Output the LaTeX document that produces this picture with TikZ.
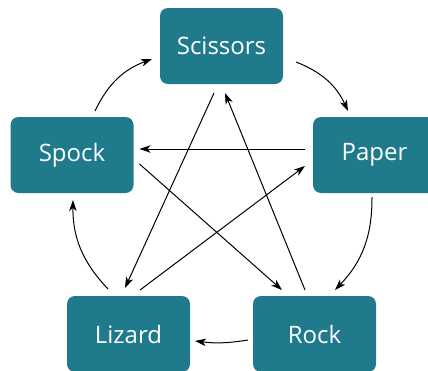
\documentclass[tikz,border=0pt]{standalone}
\usepackage{fontspec}
\setmainfont{Open Sans}
\usepackage{tikz}
\usetikzlibrary{arrows.meta, calc, positioning}
\definecolor{tealbox}{HTML}{1F7A8C}

\begin{document}
\begin{tikzpicture}[
    x=1pt, y=-1pt,
    font=\fontsize{24}{28}\selectfont,
    box/.style={rectangle, rounded corners=8pt, fill=tealbox, text=white,
                minimum width=123pt, minimum height=76pt, inner sep=0pt,
                outer sep=0pt, text centered},
    arr/.style={-{Stealth[length=11pt, width=7.5pt, inset=3pt]}, line width=1pt},
    ring/.style={arr, bend left=22},
  ]
    \useasboundingbox (0,0) rectangle (428,370);

    %% ── Boxes ────────────────────────────────────────────────
    \node[box] (scissors) at (221.5,46)  {Scissors};
    \node[box] (spock)    at (72,155)    {Spock};
    \node[box] (paper)    at (374.5,155) {Paper};
    \node[box] (lizard)   at (128.5,334) {Lizard};
    \node[box] (rock)     at (314.5,334) {Rock};

    %% ── Outer ring ───────────────────────────────────────────
    \draw[ring] ($(spock.north)+(23,-6)$) to ($(scissors.west)+(-8,13)$);
    \draw[ring] ($(scissors.east)+(13,16)$) to ($(paper.north)+(-26.5,-6)$);
    \draw[ring] ($(paper.south)+(-2.5,4)$) to ($(rock.north)+(20.5,-6)$);
    \draw[arr, bend left=8] ($(rock.west)+(-5,6)$) to ($(lizard.east)+(5,7)$);
    \draw[ring] ($(lizard.north)+(-20.5,-7)$) to ($(spock.south)+(1,7)$);

    %% ── Inner star ───────────────────────────────────────────
    \draw[arr] ($(paper.west)+(-8,-6)$) -- ($(spock.east)+(6,-6)$);
    \draw[arr] ($(spock.east)+(6,9)$) -- ($(rock.north)+(-32.5,-6)$);
    \draw[arr] ($(lizard.north)+(11.5,-6)$) -- ($(paper.west)+(-8,11)$);
    \draw[arr] ($(scissors.south)+(-7.5,9)$) -- ($(lizard.north)+(-3.5,-8)$);
    \draw[arr] ($(rock.north)+(-9.5,-6)$) -- ($(scissors.south)+(3.5,9)$);

  \end{tikzpicture}
\end{document}
